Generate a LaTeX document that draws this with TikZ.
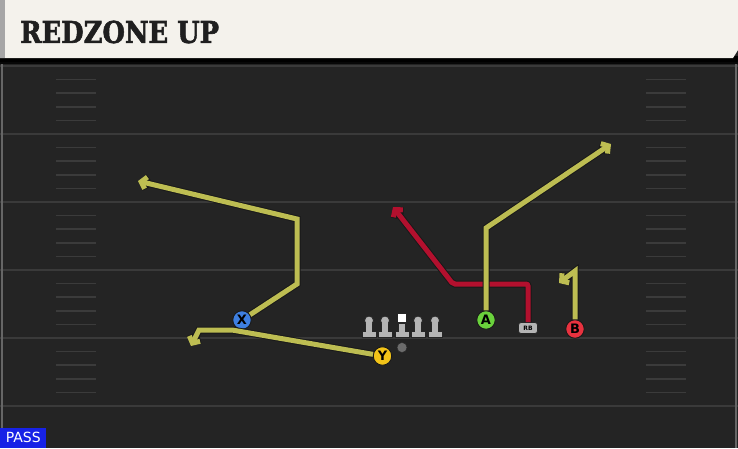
\documentclass[tikz,border=0pt]{standalone}
\usepackage{fontspec}
\usepackage{xcolor}
\usetikzlibrary{positioning, arrows.meta}
\newfontfamily\titlefont[BoldFeatures={FakeBold=2}]{DejaVu Serif}
\newfontfamily\labelfont{DejaVu Sans}
\definecolor{fieldbg}{HTML}{242424}
\definecolor{yardline}{HTML}{3A3A3A}
\definecolor{hashline}{HTML}{3B3B3B}
\definecolor{titlebg}{HTML}{F4F2EC}
\definecolor{routeyel}{HTML}{BDBD52}
\definecolor{routered}{HTML}{B3102E}
\definecolor{xblue}{HTML}{3E7FE0}
\definecolor{ygold}{HTML}{F2C318}
\definecolor{agreen}{HTML}{6AD23C}
\definecolor{bred}{HTML}{E8323F}
\definecolor{lmgray}{HTML}{B4B4B4}
\definecolor{passblue}{HTML}{1722E6}

\begin{document}
\begin{tikzpicture}[x=1pt,y=-1pt,>={Straight Barb[length=5pt,width=12pt]},line join=miter]
        \tikzstyle{player}=[circle,draw=black!90,line width=0.9pt,minimum size=18.5pt,inner sep=0pt,font=\labelfont\bfseries\fontsize{13}{13}\selectfont]
        \tikzstyle{route}=[->,line width=5pt,routeyel,preaction={draw=black!90,line width=7pt}]
        \tikzstyle{redroute}=[route,routered,rounded corners=2pt]
        \tikzstyle{lineman}=[fill=lmgray,draw=black!85,line width=0.8pt]

        % field
        \useasboundingbox (0,0) rectangle (738,448);
        \fill[fieldbg] (0,0) rectangle (738,448);
        \foreach \yl in {66,134,202,270,338,406}
            \draw[yardline,line width=2pt] (0,\yl) -- (738,\yl);
        \foreach \k in {1,...,24} {
            \pgfmathtruncatemacro{\r}{mod(\k,5)}
            \ifnum\r>0
                \draw[hashline,line width=1.6pt] (56,66+13.6*\k) -- (96,66+13.6*\k);
                \draw[hashline,line width=1.6pt] (646,66+13.6*\k) -- (686,66+13.6*\k);
            \fi
        }
        \draw[black!60,line width=1.5pt] (2,60) -- (2,448);
        \draw[black!60,line width=1.5pt] (736,60) -- (736,448);

        % title bar
        \fill[black] (0,56) rectangle (738,62);
        \fill[black!80!fieldbg] (0,62) rectangle (738,64);
        \fill[titlebg] (0,0) -- (738,0) -- (738,50) -- (733,58) -- (0,58) -- cycle;
        \fill[black!35] (0,0) rectangle (5,58);
        \node[anchor=west,inner sep=0pt,xscale=0.86,font=\titlefont\bfseries\fontsize{30}{30}\selectfont,text=black!88] (title) at (20,32) {REDZONE UP};

        % line
        \foreach \lx/\nm in {369/lt,385/lg,418/rg,435/rt} {
            \path[lineman] (\lx-7,337) rectangle (\lx+7,331);
            \path[lineman] (\lx-3.5,331.5) rectangle (\lx+3.5,322);
            \node[lineman,circle,minimum size=9pt,inner sep=0pt] (\nm) at (\lx,320.5) {};
            \fill[lmgray] (\lx-2.7,322) rectangle (\lx+2.7,331.9);
        }
        \path[lineman] (395,337) rectangle (409,331);
        \path[lineman] (398.5,331.5) rectangle (405.5,323);
        \fill[lmgray] (399.3,324) rectangle (404.7,331.9);
        \node[draw=black!85,fill=white,line width=0.8pt,minimum size=9pt,inner sep=0pt] (c) at (402,318) {};
        \node[circle,fill=black!40!lmgray,draw=black!85,minimum size=10pt,inner sep=0pt] (qb) at (402,347.5) {};

        % players
        \node[player,fill=xblue]  (X) at (242,320) {X};
        \node[player,fill=ygold]  (Y) at (382.5,356) {Y};
        \node[player,fill=agreen] (A) at (486,320) {A};
        \node[player,fill=bred]   (B) at (575,329) {B};
        \node[rounded corners=2.5pt,fill=lmgray,draw=black!85,line width=0.8pt,minimum width=19pt,minimum height=11pt,inner sep=0pt,font=\labelfont\bfseries\fontsize{6}{6}\selectfont] (RB) at (528,328) {RB};

        % route turns
        \coordinate (x1) at (297,284);
        \coordinate (x2) at (297,219);
        \coordinate (xend) at (138,181);
        \coordinate (y1) at (232,330);
        \coordinate (y2) at (199,330);
        \coordinate (yend) at (191,346);
        \coordinate (a1) at (486,228);
        \coordinate (aend) at (611,144);
        \coordinate (b1) at (575,271);
        \coordinate (bend) at (559,283);
        \coordinate (rb1) at (528,284);
        \coordinate (rb2) at (453,284);
        \coordinate (rbend) at (393,207);

        \draw[route] (X) -- (x1) -- (x2) -- (xend);
        \draw[route] (Y) -- (y1) -- (y2) -- (yend);
        \draw[redroute] (RB) -- (rb1) -- (rb2) -- (rbend);
        \draw[route] (A) -- (a1) -- (aend);
        \draw[route] (B) -- (b1) -- (bend);

        % play type
        \node[anchor=south west,fill=passblue,text=white,minimum width=46pt,minimum height=20pt,inner sep=0pt,font=\labelfont\fontsize{14}{14}\selectfont] (pass) at (0,448) {PASS};
    \end{tikzpicture}
\end{document}
